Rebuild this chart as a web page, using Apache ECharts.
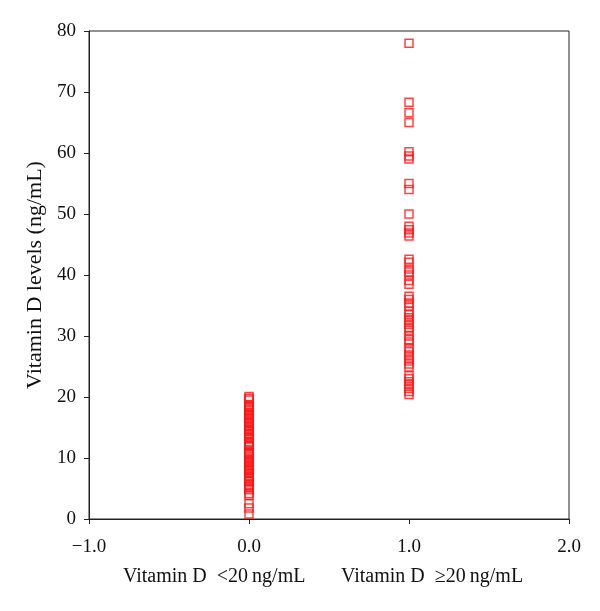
<!DOCTYPE html>
<html>
<head>
<meta charset="utf-8">
<script src="https://cdn.jsdelivr.net/npm/echarts@6/dist/echarts.min.js"></script>
<style>html,body{margin:0;padding:0;background:#fff;}#c{width:600px;height:611px;}</style>
</head>
<body>
<div id="c"></div>
<script>
// Group positions on the x axis
const groupX = [0, 1];
const groupNames = ['Vitamin D  <20\u2009ng/mL', 'Vitamin D  \u226520\u2009ng/mL'];
// Vitamin D levels (ng/mL), group <20
const lowGroup = [0.8, 1.8, 2.5, 3.9, 4.2, 4.8, 5.1, 5.4, 5.7, 6.1, 6.3, 6.6, 6.9, 7.1, 7.4, 7.6, 7.9, 8.1, 8.3, 8.6, 8.8, 9.1, 9.3, 9.5, 9.8, 10.0, 10.3, 10.6, 10.8, 11.0, 11.9, 12.1, 12.3, 12.5, 12.7, 13.1, 13.3, 13.6, 13.9, 14.1, 14.4, 14.6, 14.8, 15.1, 15.3, 15.6, 15.8, 16.0, 16.3, 16.5, 16.8, 17.0, 17.2, 17.5, 17.8, 18.0, 18.3, 18.5, 18.7, 19.5, 19.8, 20.1];
// Vitamin D levels (ng/mL), group >=20
const highGroup = [78.0, 68.3, 66.6, 65.0, 60.2, 59.5, 59.0, 55.0, 54.0, 50.0, 48.0, 47.4, 46.9, 46.4, 42.6, 42.1, 41.0, 40.5, 40.0, 39.1, 38.5, 36.5, 36.0, 35.4, 34.9, 34.0, 33.5, 33.0, 32.5, 31.9, 31.4, 30.9, 30.0, 29.4, 29.0, 28.0, 27.4, 26.9, 26.4, 25.9, 25.4, 24.9, 23.5, 23.0, 22.5, 22.0, 21.4, 20.9, 20.4];
const yTicks = [0, 10, 20, 30, 40, 50, 60, 70, 80];
const xTicks = [-1, 0, 1, 2];

const data = [];
lowGroup.forEach(v => data.push([groupX[0], v]));
highGroup.forEach(v => data.push([groupX[1], v]));

const font = '"Liberation Serif", "DejaVu Serif", serif';
const chart = echarts.init(document.getElementById('c'), null, {renderer: 'canvas'});
chart.setOption({
  animation: false,
  backgroundColor: '#fff',
  textStyle: {fontFamily: font},
  grid: {left: 89, right: 31, top: 31, bottom: 92, show: true, borderColor: '#222', borderWidth: 1},
  xAxis: {
    type: 'value', min: xTicks[0], max: xTicks[xTicks.length - 1], interval: 1,
    axisLine: {lineStyle: {color: '#222', width: 1}},
    axisTick: {show: true, length: 5, lineStyle: {color: '#222'}},
    splitLine: {show: false},
    axisLabel: {color: '#111', fontSize: 19, fontFamily: font, margin: 19,
      formatter: v => (v < 0 ? '\u2212' : '') + Math.abs(v).toFixed(1)}
  },
  yAxis: {
    type: 'value', min: yTicks[0], max: yTicks[yTicks.length - 1], interval: 10,
    name: 'Vitamin D levels (ng/mL)', nameLocation: 'middle', nameGap: 43,
    nameTextStyle: {color: '#111', fontSize: 22, fontFamily: font},
    axisLine: {show: true, onZero: false, lineStyle: {color: '#222', width: 1}},
    axisTick: {show: true, length: 5, lineStyle: {color: '#222'}},
    splitLine: {show: false},
    axisLabel: {color: '#111', fontSize: 19, fontFamily: font, margin: 13}
  },
  graphic: [
    {type: 'text', left: 123, top: 567, style: {text: groupNames[0], font: '20px ' + font, fill: '#111'}},
    {type: 'text', left: 341, top: 567, style: {text: groupNames[1], font: '20px ' + font, fill: '#111'}}
  ],
  series: [{
    type: 'scatter',
    symbol: 'rect',
    symbolSize: 8,
    data: data,
    itemStyle: {color: 'rgba(255,255,255,0)', borderColor: '#ff1414', borderWidth: 1.5}
  }]
});
</script>
</body>
</html>
